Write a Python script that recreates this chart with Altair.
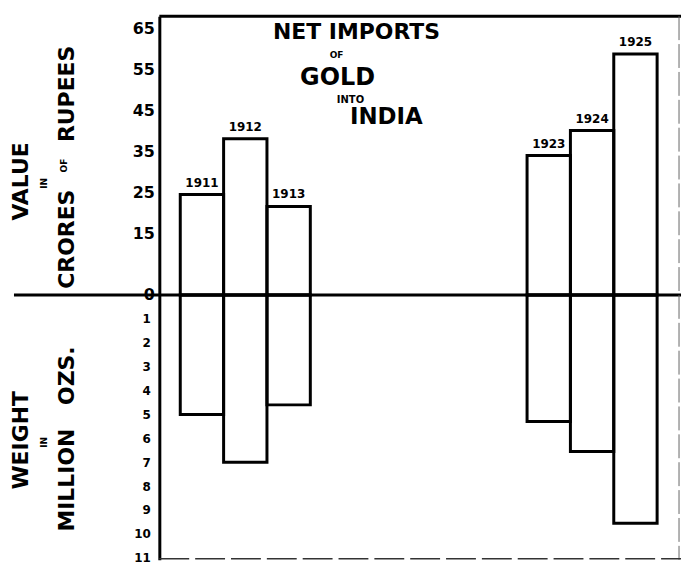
import altair as alt
import pandas as pd

# ---- data ----
years = ["1911", "1912", "1913", "1923", "1924", "1925"]
value_crores = [24.5, 38.1, 21.6, 34.0, 40.1, 58.8]      # value, crores of rupees
weight_million_oz = [5.0, 7.0, 4.6, 5.3, 6.55, 9.55]     # weight, million ozs.
value_ticks = [0, 15, 25, 35, 45, 55, 65]
weight_ticks = [1, 2, 3, 4, 5, 6, 7, 8, 9, 10, 11]
gap_slots = [" ", "  ", "   ", "    ", "     "]          # empty years between the groups
x_domain = years[:3] + gap_slots + years[3:]

df = pd.DataFrame({"year": years, "value": value_crores, "weight": weight_million_oz})
one = pd.DataFrame({"k": [0]})

FONT = "DejaVu Sans"
W = 524
H_TOP = 280
H_BOT = 266

xscale = alt.Scale(domain=x_domain, paddingInner=0, paddingOuter=0.517, align=0.467)
xenc = alt.X("year:N", scale=xscale, axis=None)


def txt(text, x, y, size, angle=0):
    return alt.Chart(one).mark_text(
        text=text, font=FONT, fontWeight="bold", fontSize=size, angle=angle,
        align="center", baseline="middle", color="black"
    ).encode(x=alt.value(x), y=alt.value(y))


def rule(x, x2, y, width=3, color="black", dash=None):
    kw = dict(strokeWidth=width, color=color)
    if dash:
        kw["strokeDash"] = dash
    return alt.Chart(one).mark_rule(**kw).encode(x=alt.value(x), x2=alt.value(x2), y=alt.value(y))


def vrule(x, y, y2, width=1, color="black", dash=None):
    kw = dict(strokeWidth=width, color=color)
    if dash:
        kw["strokeDash"] = dash
    return alt.Chart(one).mark_rule(**kw).encode(x=alt.value(x), y=alt.value(y), y2=alt.value(y2))


axis_common = dict(
    domain=True, domainColor="black", domainWidth=3, ticks=False, grid=False,
    labelFont=FONT, labelFontWeight="bold", labelColor="black", labelOverlap=False,
    title=None,
)

# ---- upper panel: value ----
top_bars = alt.Chart(df).mark_bar(fill="white", fillOpacity=0, stroke="black", strokeWidth=3).encode(
    x=xenc,
    y=alt.Y("value:Q", scale=alt.Scale(domain=[0, 68], nice=False),
            axis=alt.Axis(values=value_ticks, labelFontSize=16, labelPadding=5, **axis_common)),
)
top_labels = alt.Chart(df).mark_text(
    font=FONT, fontWeight="bold", fontSize=12, dy=-12, color="black"
).encode(x=xenc, y=alt.Y("value:Q"), text="year:N")

top = alt.layer(
    top_bars,
    top_labels,
    rule(0, W, 0, 3),
    rule(-146, W, H_TOP, 3),
    vrule(W - 2, 0, H_TOP, 1, "#666", [24, 4]),
    txt("NET IMPORTS", 198, 16, 22),
    txt("OF", 178, 39, 9),
    txt("GOLD", 179, 62, 24),
    txt("INTO", 192, 84, 10),
    txt("INDIA", 228, 101, 23),
    txt("VALUE", -139, 166, 22, 270),
    txt("IN", -116, 168, 9, 270),
    txt("RUPEES", -93, 78, 22, 270),
    txt("OF", -96, 150, 9, 270),
    txt("CRORES", -93, 224, 22, 270),
).properties(width=W, height=H_TOP)

# ---- lower panel: weight ----
bot_bars = alt.Chart(df).mark_bar(fill="white", fillOpacity=0, stroke="black", strokeWidth=3).encode(
    x=xenc,
    y=alt.Y("weight:Q", scale=alt.Scale(domain=[0, H_BOT / 24.0], nice=False, reverse=True),
            axis=alt.Axis(values=weight_ticks, labelFontSize=12, labelPadding=9, **axis_common)),
)

bottom = alt.layer(
    bot_bars,
    vrule(W - 2, 0, H_BOT, 1, "#666", [24, 4]),
    rule(0, W, H_BOT - 1, 1.5, "#333", [30, 6]),
    txt("WEIGHT", -139, 146, 22, 270),
    txt("IN", -116, 148, 9, 270),
    txt("OZS.", -93, 81, 22, 270),
    txt("MILLION", -93, 186, 22, 270),
).properties(width=W, height=H_BOT)

chart = alt.vconcat(top, bottom, spacing=0, bounds="flush").resolve_scale(
    y="independent"
).properties(
    padding={"left": 2, "top": 5, "right": 0, "bottom": 0},
    background="white",
).configure_view(stroke=None)

chart.save("out.html", embed_options={"renderer": "svg", "actions": False})
